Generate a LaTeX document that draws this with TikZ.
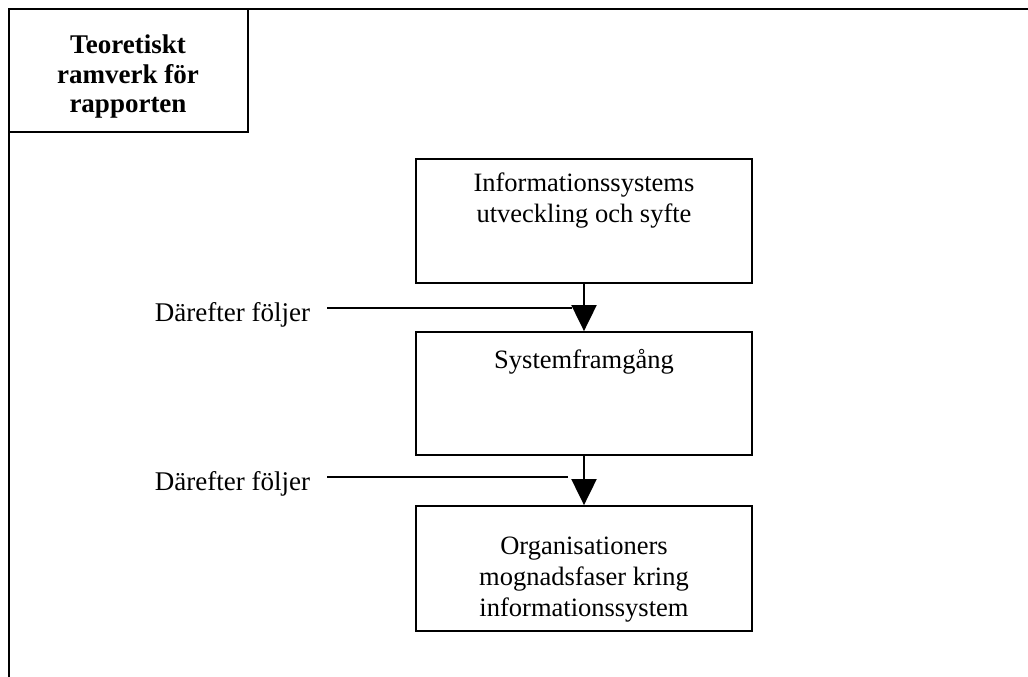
\documentclass[tikz,border=0pt]{standalone}
\usepackage{fontspec}
\setmainfont{Liberation Serif}
\usetikzlibrary{arrows.meta}
\tikzset{
  ruta/.style={draw,line width=1.8pt,minimum width=336pt,inner sep=0pt},
  rutatext/.style={align=center,inner sep=0pt,font=\fontsize{26.5}{31}\selectfont},
  pil/.style={line width=2pt,-{Triangle[width=25pt,length=26pt]}},
  hint/.style={inner sep=0pt,font=\fontsize{27}{31}\selectfont}
}
\begin{document}
\begin{tikzpicture}[x=1pt,y=-1pt,line width=1.8pt]
      \useasboundingbox (0,0) rectangle (1028,677);
      % ram
      \draw (9,677)--(9,9)--(1028,9);
      \draw (9,132)--(248,132)--(248,9);
      \node[rutatext,font=\fontsize{27}{29.5}\selectfont\bfseries] (titel) at (128,77) {Teoretiskt\\ramverk f\"or\\rapporten};
      % rutor
      \node[ruta,minimum height=124pt] (info) at (584,221) {};
      \node[ruta,minimum height=123pt] (sys) at (584,393.5) {};
      \node[ruta,minimum height=125pt] (org) at (584,568.5) {};
      \node[rutatext] (infotxt) at (584,201) {Informationssystems\\utveckling och syfte};
      \node[rutatext] (systxt) at (584,362) {Systemframg\aa ng};
      \node[rutatext] (orgtxt) at (584,580) {Organisationers\\mognadsfaser kring\\informationssystem};
      % pilar
      \draw[pil] (info.south)--(sys.north);
      \draw[pil] (sys.south)--(org.north);
      \node[hint,anchor=east] (steg1) at (311,315) {D\"arefter f\"oljer};
      \node[hint,anchor=east] (steg2) at (311,484) {D\"arefter f\"oljer};
      \coordinate (j1) at (572,308);
      \coordinate (j2) at (568,477);
      \draw[line width=1.5pt] (327,308)--(j1);
      \draw[line width=1.5pt] (327,477)--(j2);
\end{tikzpicture}
\end{document}
